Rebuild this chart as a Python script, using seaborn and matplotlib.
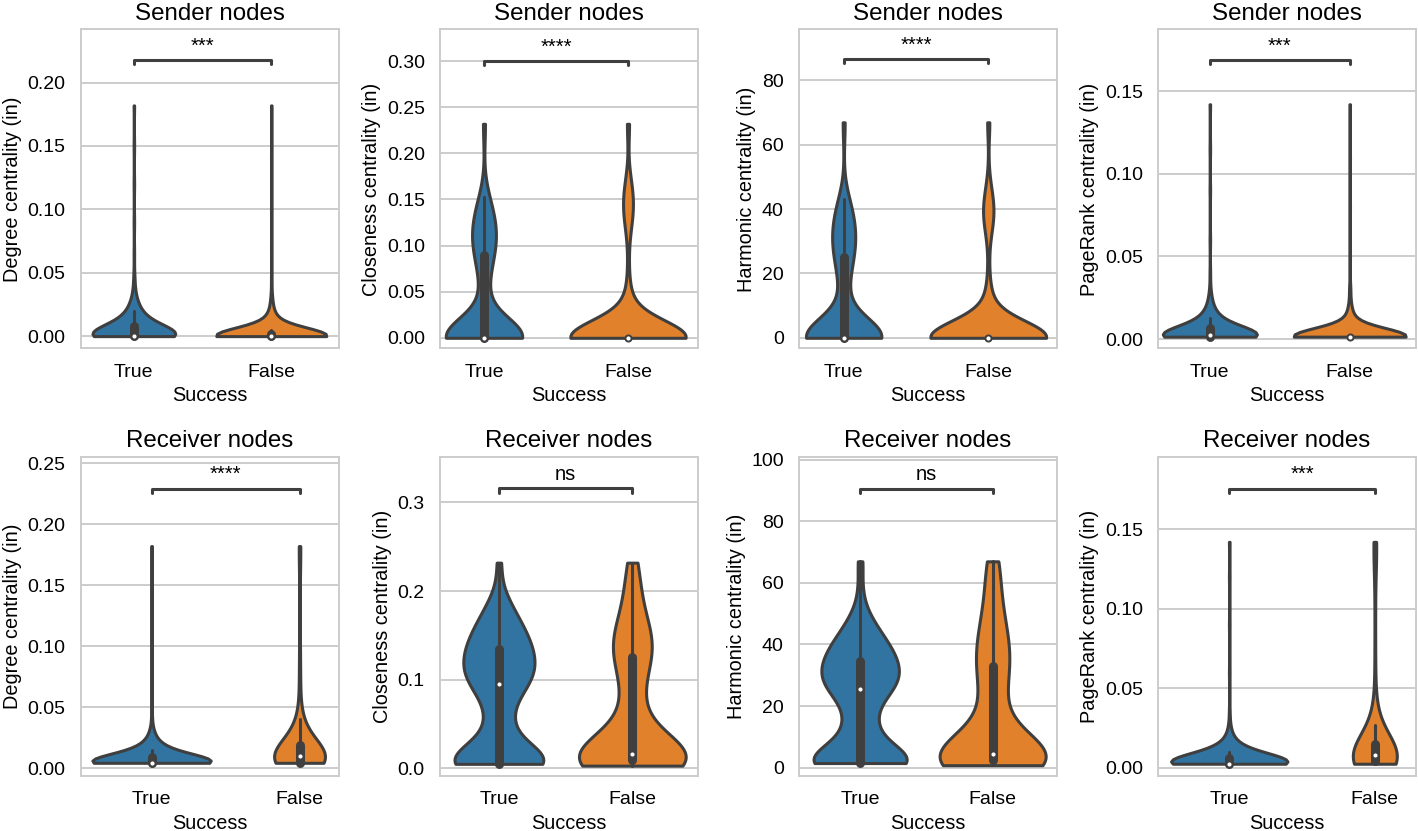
import numpy as np
import pandas as pd
import matplotlib
matplotlib.use("Agg")
import matplotlib.pyplot as plt
from matplotlib.ticker import MultipleLocator
import seaborn as sns

# ---------------- data (with counts) ----------------
GROUPS = ["True", "False"]
ROLES = ["Sender nodes", "Receiver nodes"]
YLABELS = ["Degree centrality (in)", "Closeness centrality (in)",
           "Harmonic centrality (in)", "PageRank centrality (in)"]
SIGNIF = [["***", "****", "****", "***"],
          ["****", "ns", "ns", "***"]]

# Sender - degree
SD_TRUE_VALUES = [0.0, 0.002, 0.005, 0.008, 0.011, 0.015, 0.02, 0.026, 0.033, 0.045, 0.065, 0.09, 0.12, 0.15, 0.182]
SD_TRUE_COUNTS = [110, 20, 20, 16, 14, 12, 9, 6, 3, 2, 1, 1, 1, 1, 1]
SD_FALSE_VALUES = [0.0, 0.002, 0.005, 0.008, 0.012, 0.016, 0.022, 0.03, 0.045, 0.07, 0.1, 0.14, 0.182]
SD_FALSE_COUNTS = [170, 14, 12, 10, 7, 5, 3, 2, 1, 1, 1, 1, 1]
# Sender - closeness
SC_TRUE_VALUES = [0.0, 0.008, 0.016, 0.024, 0.032, 0.045, 0.06, 0.075, 0.09, 0.1, 0.11, 0.12, 0.13, 0.14, 0.153, 0.232]
SC_TRUE_COUNTS = [104, 5, 4, 3, 2, 3, 4, 6, 8, 8, 8, 8, 7, 6, 5, 3]
SC_FALSE_VALUES = [0.0, 0.01, 0.02, 0.03, 0.04, 0.05, 0.07, 0.09, 0.115, 0.13, 0.145, 0.16, 0.175, 0.232]
SC_FALSE_COUNTS = [152, 8, 6, 4, 3, 2, 1, 1, 2, 5, 6, 5, 2, 3]
# Sender - harmonic
SH_TRUE_VALUES = [0, 2.5, 5, 7.5, 10, 13, 17, 21, 25, 28, 31, 34, 37, 40, 43, 67]
SH_TRUE_COUNTS = [104, 5, 4, 3, 2, 3, 4, 6, 8, 8, 8, 8, 7, 6, 5, 3]
SH_FALSE_VALUES = [0, 3, 6, 9, 12, 15, 20, 26, 33, 37, 41, 45, 50, 67]
SH_FALSE_COUNTS = [152, 8, 6, 4, 3, 2, 1, 1, 3, 6, 6, 4, 1, 3]
# Sender - PageRank
SP_TRUE_VALUES = [0.0015, 0.003, 0.005, 0.007, 0.01, 0.013, 0.017, 0.022, 0.028, 0.04, 0.06, 0.09, 0.115, 0.142]
SP_TRUE_COUNTS = [110, 30, 22, 16, 14, 10, 7, 4, 2, 1, 1, 1, 1, 1]
SP_FALSE_VALUES = [0.0015, 0.003, 0.005, 0.008, 0.011, 0.015, 0.02, 0.03, 0.05, 0.08, 0.11, 0.142]
SP_FALSE_COUNTS = [168, 15, 12, 9, 6, 4, 3, 2, 1, 1, 1, 1]
# Receiver - degree
RD_TRUE_VALUES = [0.0045, 0.007, 0.009, 0.012, 0.015, 0.018, 0.022, 0.027, 0.033, 0.045, 0.07, 0.1, 0.14, 0.182]
RD_TRUE_COUNTS = [130, 25, 20, 16, 12, 9, 6, 4, 2, 1, 1, 1, 1, 1]
RD_FALSE_VALUES = [0.0045, 0.006, 0.008, 0.01, 0.013, 0.016, 0.02, 0.025, 0.03, 0.035, 0.04, 0.05, 0.065, 0.08, 0.1, 0.13, 0.16, 0.182]
RD_FALSE_COUNTS = [28, 10, 10, 10, 8, 7, 6, 4, 3, 2, 2, 1, 1, 1, 1, 1, 1, 2]
# Receiver - closeness
RC_TRUE_VALUES = [0.005, 0.015, 0.025, 0.035, 0.045, 0.055, 0.065, 0.075, 0.085, 0.095, 0.105, 0.115,
                  0.125, 0.135, 0.145, 0.155, 0.165, 0.175, 0.185, 0.195, 0.232]
RC_TRUE_COUNTS = [112, 21, 15, 11, 9, 9, 9, 9, 15, 24, 29, 26, 26, 26, 21, 21, 15, 12, 9, 6, 6]
RC_FALSE_VALUES = [0.003, 0.009, 0.016, 0.03, 0.045, 0.06, 0.075, 0.09, 0.105, 0.115, 0.125, 0.135,
                   0.145, 0.155, 0.165, 0.18, 0.195, 0.21, 0.22, 0.232]
RC_FALSE_COUNTS = [24, 24, 26, 8, 5, 4, 4, 4, 3, 4, 6, 6, 6, 5, 4, 4, 3, 2, 2, 3]
# Receiver - harmonic
RH_TRUE_VALUES = [1.5, 4.5, 7.5, 10.5, 13.5, 16.5, 19.5, 22.5, 25.5, 28.5, 31.5, 34.5, 37.5, 40.5,
                  43.5, 46.5, 49.5, 52.5, 56, 60, 67]
RH_TRUE_COUNTS = [112, 18, 15, 13, 13, 9, 12, 12, 31, 31, 31, 27, 27, 21, 15, 12, 6, 3, 2, 2, 6]
RH_FALSE_VALUES = [0.8, 2.5, 4.5, 9, 13, 17, 21, 25, 29, 33, 36, 40, 44, 48, 52, 56, 60, 64, 67]
RH_FALSE_COUNTS = [24, 24, 25, 8, 5, 4, 4, 4, 5, 6, 5, 6, 5, 4, 3, 3, 2, 2, 4]
# Receiver - PageRank
RP_TRUE_VALUES = [0.0025, 0.004, 0.006, 0.008, 0.01, 0.013, 0.016, 0.02, 0.025, 0.035, 0.06, 0.09, 0.12, 0.142]
RP_TRUE_COUNTS = [110, 30, 22, 16, 12, 9, 6, 3, 2, 1, 1, 1, 1, 1]
RP_FALSE_VALUES = [0.0025, 0.004, 0.006, 0.008, 0.01, 0.012, 0.015, 0.018, 0.022, 0.027, 0.033, 0.04, 0.055, 0.075, 0.1, 0.125, 0.142]
RP_FALSE_COUNTS = [24, 14, 12, 10, 8, 6, 5, 4, 3, 3, 2, 1, 1, 1, 1, 2, 4]

SERIES = [
    [(SD_TRUE_VALUES, SD_TRUE_COUNTS, SD_FALSE_VALUES, SD_FALSE_COUNTS),
     (SC_TRUE_VALUES, SC_TRUE_COUNTS, SC_FALSE_VALUES, SC_FALSE_COUNTS),
     (SH_TRUE_VALUES, SH_TRUE_COUNTS, SH_FALSE_VALUES, SH_FALSE_COUNTS),
     (SP_TRUE_VALUES, SP_TRUE_COUNTS, SP_FALSE_VALUES, SP_FALSE_COUNTS)],
    [(RD_TRUE_VALUES, RD_TRUE_COUNTS, RD_FALSE_VALUES, RD_FALSE_COUNTS),
     (RC_TRUE_VALUES, RC_TRUE_COUNTS, RC_FALSE_VALUES, RC_FALSE_COUNTS),
     (RH_TRUE_VALUES, RH_TRUE_COUNTS, RH_FALSE_VALUES, RH_FALSE_COUNTS),
     (RP_TRUE_VALUES, RP_TRUE_COUNTS, RP_FALSE_VALUES, RP_FALSE_COUNTS)],
]

# ---------------- layout ----------------
YLIMS = [[(-0.0097, 0.242), (-0.0115, 0.3344), (-3.3, 95.9), (-0.0056, 0.1873)],
         [(-0.0063, 0.255), (-0.0087, 0.3513), (-2.7, 100.9), (-0.0052, 0.1954)]]
XLIMS = [[(-0.385, 1.491), (-0.305, 1.485), (-0.308, 1.475), (-0.369, 1.474)],
         [(-0.477, 1.265), (-0.441, 1.491), (-0.46, 1.485), (-0.488, 1.283)]]
YSTEPS = [[0.05, 0.05, 20, 0.05], [0.05, 0.1, 20, 0.05]]
BRACKET_Y = [[0.218, 0.300, 86.6, 0.1687], [0.229, 0.3157, 90.6, 0.1755]]

LINE = "#3f3f3f"
LW = 2.2

sns.set_theme(style="whitegrid", context="notebook")
plt.rcParams["font.family"] = ["Liberation Sans", "DejaVu Sans"]
plt.rcParams["axes.edgecolor"] = "#cccccc"
plt.rcParams["axes.linewidth"] = 1.4
plt.rcParams["grid.linewidth"] = 1.4
plt.rcParams["grid.color"] = "#cccccc"
plt.rcParams["text.color"] = "black"
plt.rcParams["axes.labelcolor"] = "black"
plt.rcParams["xtick.color"] = "black"
plt.rcParams["ytick.color"] = "black"

fig, axes = plt.subplots(2, 4, figsize=(14.18, 8.31), dpi=100)
fig.subplots_adjust(left=0.0571, right=0.9986, bottom=0.0662, top=0.9647,
                    wspace=0.393, hspace=0.34)

for r in range(2):
    for c in range(4):
        ax = axes[r, c]
        tv, tc, fv, fc = SERIES[r][c]
        vals = np.concatenate([np.repeat(tv, tc), np.repeat(fv, fc)])
        succ = ["True"] * int(np.sum(tc)) + ["False"] * int(np.sum(fc))
        df = pd.DataFrame({"Success": succ, "value": vals})
        sns.violinplot(data=df, x="Success", y="value", hue="Success",
                       order=GROUPS, hue_order=GROUPS, palette="tab10",
                       cut=0, inner="box", density_norm="area", common_norm=True,
                       width=0.8, linewidth=LW, linecolor=LINE, legend=False,
                       inner_kws=dict(box_width=6.5, whis_width=LW, marker="o",
                                      markersize=4.4, markeredgewidth=1.4),
                       ax=ax)
        for ln in ax.lines:
            if ln.get_marker() == "o":
                ln.set_markeredgecolor(LINE)
                ln.set_markerfacecolor("white")
                ln.set_zorder(5)
        ax.set_ylim(*YLIMS[r][c])
        ax.set_xlim(*XLIMS[r][c])
        ax.yaxis.set_major_locator(MultipleLocator(YSTEPS[r][c]))
        ax.xaxis.grid(False)
        ax.set_title(ROLES[r], fontsize=17.4, pad=7)
        ax.set_xlabel("Success", fontsize=14.3)
        ax.set_ylabel(YLABELS[c], fontsize=14.3)
        ax.tick_params(axis="both", labelsize=14, pad=5)
        for sp in ax.spines.values():
            sp.set_visible(True)
            sp.set_color("#cccccc")
            sp.set_linewidth(1.4)
        # significance bracket
        y = BRACKET_Y[r][c]
        lo, hi = YLIMS[r][c]
        h = (hi - lo) * 0.013
        ax.plot([0, 0, 1, 1], [y - h, y, y, y - h], color=LINE, lw=LW,
                solid_capstyle="round", solid_joinstyle="round", clip_on=False)
        ax.annotate(SIGNIF[r][c], xy=(0.5, y), xytext=(0, 6),
                    textcoords="offset points", ha="center", va="baseline",
                    fontsize=14.5, color="black")

fig.savefig("out.png", dpi=100)
